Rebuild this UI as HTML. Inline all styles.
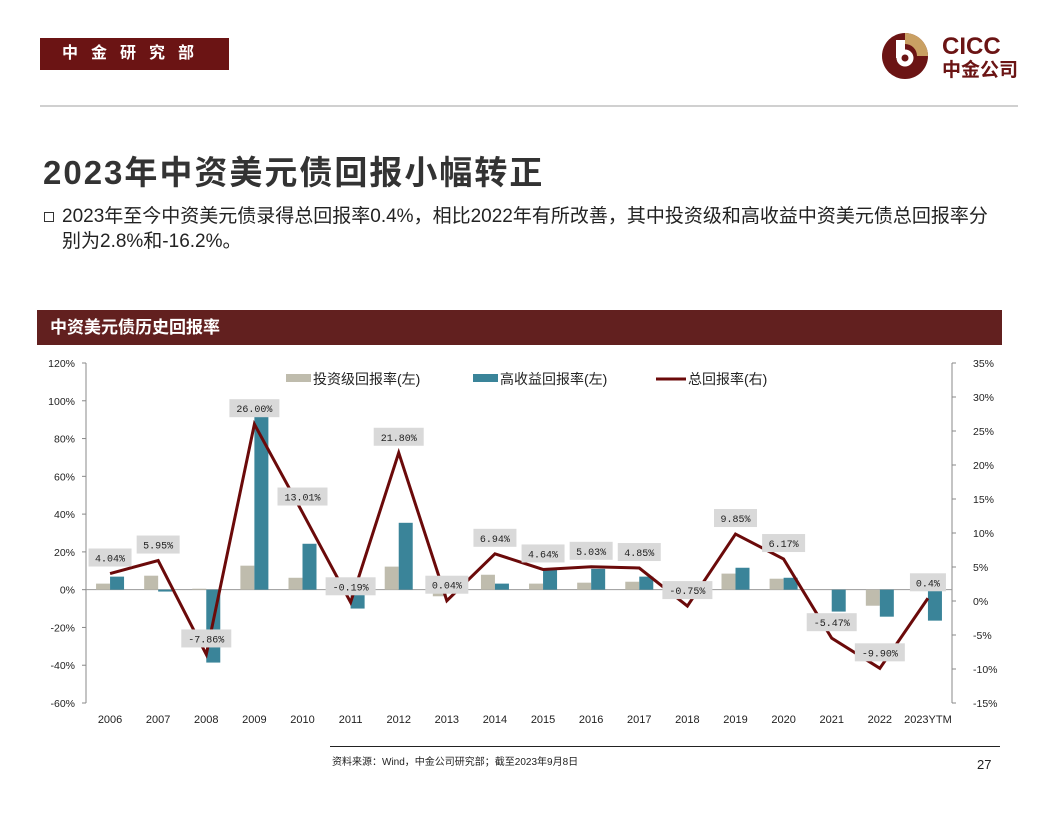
<!DOCTYPE html>
<html><head><meta charset="utf-8">
<style>
body{margin:0;width:1056px;height:816px;background:#fff;position:relative;overflow:hidden;font-family:"Liberation Sans","Noto Sans CJK SC",sans-serif;}
.abs{position:absolute;}
</style></head><body>
<div class="abs" style="left:40px;top:38px;width:189px;height:32px;background:#6b1414;color:#fff;font-size:16px;font-weight:bold;line-height:32px;text-align:center;letter-spacing:13px;">中金研究部</div>
<div class="abs" style="left:880px;top:28px;width:150px;height:56px;">
<svg width="150" height="56" viewBox="0 0 150 56">
<circle cx="25" cy="28" r="23" fill="#6b1414"/>
<path d="M25 5 A23 23 0 0 1 48 28 L37 28 A12 12 0 0 0 25 16 Z" fill="#c9a063"/>
<circle cx="25" cy="30" r="8.5" fill="#fff"/>
<rect x="16" y="12" width="9" height="18" fill="#fff"/>
<circle cx="25" cy="30" r="3.5" fill="#6b1414"/>
<text x="62" y="26" font-family="Liberation Sans" font-weight="bold" font-size="24" fill="#6b1414">CICC</text>
<text x="62" y="48" font-family="Noto Sans CJK SC" font-weight="bold" font-size="19" fill="#6b1414">中金公司</text>
</svg></div>
<div class="abs" style="left:40px;top:105px;width:978px;height:2px;background:#d0d0d0;"></div>
<div class="abs" style="left:43px;top:146px;font-size:33px;letter-spacing:2px;font-weight:bold;color:#333;">2023年中资美元债回报小幅转正</div>
<div class="abs" style="left:44px;top:212px;width:8px;height:8px;border:1.5px solid #333;"></div>
<div class="abs" style="left:62px;top:204px;width:990px;font-size:19px;line-height:25px;color:#222;white-space:nowrap;">2023年至今中资美元债录得总回报率0.4%，相比2022年有所改善，其中投资级和高收益中资美元债总回报率分<br>别为2.8%和-16.2%。</div>
<div class="abs" style="left:37px;top:310px;width:965px;height:35px;background:#62201f;color:#fff;font-size:17px;font-weight:bold;line-height:35px;padding-left:13px;box-sizing:border-box;">中资美元债历史回报率</div>
<svg class="abs" style="left:0;top:0" width="1056" height="816" id="chart"></svg>
<div class="abs" style="left:330px;top:746px;width:670px;height:1px;background:#222;"></div>
<div class="abs" style="left:332px;top:753px;font-size:10px;color:#222;">资料来源：Wind，中金公司研究部；截至2023年9月8日</div>
<div class="abs" style="left:977px;top:757px;font-size:13px;color:#222;">27</div>
<script>
const categories=["2006","2007","2008","2009","2010","2011","2012","2013","2014","2015","2016","2017","2018","2019","2020","2021","2022","2023YTM"];
const igReturns=[3.2,7.4,0.5,12.7,6.3,0,12.2,-3.5,7.9,3.2,3.7,4.2,0,8.5,5.8,0,-8.5,0];
const hyReturns=[6.9,-1,-38.6,91.5,24.3,-10,35.4,0,3.2,10.6,11,6.9,0,11.6,6.3,-11.6,-14.3,-16.4];
const totalReturns=[4.04,5.95,-7.86,26.00,13.01,-0.19,21.80,0.04,6.94,4.64,5.03,4.85,-0.75,9.85,6.17,-5.47,-9.90,0.4];
const totalLabels=["4.04%","5.95%","-7.86%","26.00%","13.01%","-0.19%","21.80%","0.04%","6.94%","4.64%","5.03%","4.85%","-0.75%","9.85%","6.17%","-5.47%","-9.90%","0.4%"];
const leftTicks=[120,100,80,60,40,20,0,-20,-40,-60];
const rightTicks=[35,30,25,20,15,10,5,0,-5,-10,-15];
const svg=document.getElementById('chart');
const NS='http://www.w3.org/2000/svg';
const X0=86,X1=952,T=363,B=703;
const yL=v=>T+(120-v)/180*(B-T);
const yR=v=>T+(35-v)/50*(B-T);
const bw=(X1-X0)/categories.length;
const xc=i=>X0+bw*(i+0.5);
function mk(tag,attrs,parent){const e=document.createElementNS(NS,tag);for(const k in attrs)e.setAttribute(k,attrs[k]);(parent||svg).appendChild(e);return e;}
let e;
e=mk('line',{x1:X0,y1:T,x2:X0,y2:B,stroke:'#888'});


e=mk('line',{x1:X1,y1:T,x2:X1,y2:B,stroke:'#888'});


leftTicks.forEach(v=>{
 e=mk('text',{x:75,y:yL(v)+4,'text-anchor':'end','font-size':10.5,fill:'#222','font-family':'Liberation Sans'});e.textContent=v+'%';
 
 
 mk('line',{x1:X0-4,y1:yL(v),x2:X0,y2:yL(v),stroke:'#888'});
});
rightTicks.forEach(v=>{
 e=mk('text',{x:973,y:yR(v)+4,'font-size':10.5,fill:'#222','font-family':'Liberation Sans'});e.textContent=v+'%';
 
 
 mk('line',{x1:X1,y1:yR(v),x2:X1+4,y2:yR(v),stroke:'#888'});
});
e=mk('line',{x1:X0,y1:yL(0),x2:X1,y2:yL(0),stroke:'#999'});


categories.forEach((c,i)=>{
 const x=xc(i);
 e=mk('rect',{x:x-14,y:Math.min(yL(0),yL(igReturns[i])),width:14,height:Math.abs(yL(igReturns[i])-yL(0)),fill:'#bfbcad'});
 
 
 e=mk('rect',{x:x,y:Math.min(yL(0),yL(hyReturns[i])),width:14,height:Math.abs(yL(hyReturns[i])-yL(0)),fill:'#3a8499'});
 
 
 e=mk('text',{x:x,y:723,'text-anchor':'middle','font-size':11,fill:'#222','font-family':'Liberation Sans'});e.textContent=c;
 
 
});
e=mk('polyline',{points:totalReturns.map((v,i)=>xc(i)+','+yR(v)).join(' '),fill:'none',stroke:'#6b0a0a','stroke-width':3,'stroke-linejoin':'miter'});


totalReturns.forEach((v,i)=>{
 const x=xc(i),y=yR(v)-16,t=totalLabels[i],w=t.length*7+8;
 e=mk('rect',{x:x-w/2,y:y-9,width:w,height:18,fill:'#d9d9d9'});
 
 
 e=mk('text',{x:x,y:y+4,'text-anchor':'middle','font-size':10,fill:'#222','font-family':'Liberation Mono'});e.textContent=t;
 
 
});
const lg=[[286,'ig','#bfbcad','投资级回报率(左)'],[473,'hy','#3a8499','高收益回报率(左)'],[656,'total','#6b0a0a','总回报率(右)']];
lg.forEach(([x,k,c,t])=>{
 if(k==='total'){e=mk('line',{x1:x,y1:379,x2:x+30,y2:379,stroke:c,'stroke-width':3});}
 else{e=mk('rect',{x:x,y:374,width:25,height:8,fill:c});}
 
 
 e=mk('text',{x:x+(k==='total'?32:27),y:384,'font-size':14,fill:'#222','font-family':'Liberation Sans, Noto Sans CJK SC, sans-serif'});e.textContent=t;
 
 
});
</script>
</body></html>
